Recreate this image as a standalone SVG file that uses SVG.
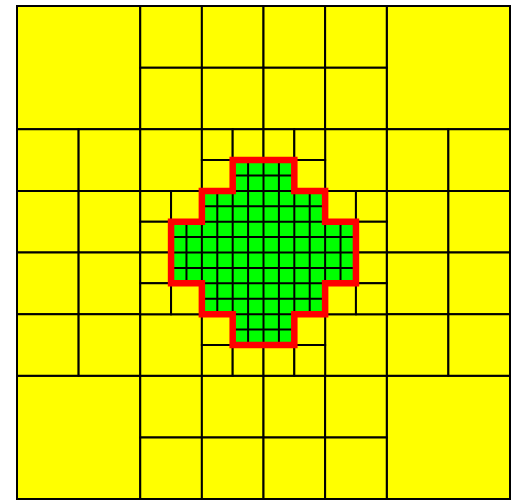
<svg xmlns="http://www.w3.org/2000/svg" width="519" height="500" viewBox="0 0 519 500">
<style>
.c{fill:#ffff00;stroke:#000;stroke-width:2;vector-effect:non-scaling-stroke}
.g{fill:#00ff00;stroke:none}
.gl{fill:none;stroke:#000;stroke-width:2;vector-effect:non-scaling-stroke}
.r{fill:none;stroke:#ff0000;stroke-width:6.5;stroke-linejoin:miter;vector-effect:non-scaling-stroke}
</style>
<defs>
<clipPath id="gc"><polygon points="7,5 9,5 9,6 10,6 10,7 11,7 11,9 10,9 10,10 9,10 9,11 7,11 7,10 6,10 6,9 5,9 5,7 6,7 6,6 7,6"/></clipPath>
</defs>
<rect width="519" height="500" fill="#fff"/>
<g transform="translate(17 6) scale(30.8125)">
<g id="level1">
<rect class="c" x="0" y="0" width="4" height="4"/>
<rect class="c" x="12" y="0" width="4" height="4"/>
<rect class="c" x="0" y="12" width="4" height="4"/>
<rect class="c" x="12" y="12" width="4" height="4"/>
</g>
<g id="level2">
<rect class="c" x="4" y="0" width="2" height="2"/><rect class="c" x="6" y="0" width="2" height="2"/><rect class="c" x="8" y="0" width="2" height="2"/><rect class="c" x="10" y="0" width="2" height="2"/>
<rect class="c" x="4" y="2" width="2" height="2"/><rect class="c" x="6" y="2" width="2" height="2"/><rect class="c" x="8" y="2" width="2" height="2"/><rect class="c" x="10" y="2" width="2" height="2"/>
<rect class="c" x="4" y="12" width="2" height="2"/><rect class="c" x="6" y="12" width="2" height="2"/><rect class="c" x="8" y="12" width="2" height="2"/><rect class="c" x="10" y="12" width="2" height="2"/>
<rect class="c" x="4" y="14" width="2" height="2"/><rect class="c" x="6" y="14" width="2" height="2"/><rect class="c" x="8" y="14" width="2" height="2"/><rect class="c" x="10" y="14" width="2" height="2"/>
<rect class="c" x="0" y="4" width="2" height="2"/><rect class="c" x="2" y="4" width="2" height="2"/><rect class="c" x="0" y="6" width="2" height="2"/><rect class="c" x="2" y="6" width="2" height="2"/>
<rect class="c" x="0" y="8" width="2" height="2"/><rect class="c" x="2" y="8" width="2" height="2"/><rect class="c" x="0" y="10" width="2" height="2"/><rect class="c" x="2" y="10" width="2" height="2"/>
<rect class="c" x="12" y="4" width="2" height="2"/><rect class="c" x="14" y="4" width="2" height="2"/><rect class="c" x="12" y="6" width="2" height="2"/><rect class="c" x="14" y="6" width="2" height="2"/>
<rect class="c" x="12" y="8" width="2" height="2"/><rect class="c" x="14" y="8" width="2" height="2"/><rect class="c" x="12" y="10" width="2" height="2"/><rect class="c" x="14" y="10" width="2" height="2"/>
<rect class="c" x="4" y="4" width="2" height="2"/><rect class="c" x="10" y="4" width="2" height="2"/><rect class="c" x="4" y="10" width="2" height="2"/><rect class="c" x="10" y="10" width="2" height="2"/>
</g>
<g id="level3">
<rect class="c" x="6" y="4" width="1" height="1"/><rect class="c" x="7" y="4" width="1" height="1"/><rect class="c" x="6" y="5" width="1" height="1"/>
<rect class="c" x="8" y="4" width="1" height="1"/><rect class="c" x="9" y="4" width="1" height="1"/><rect class="c" x="9" y="5" width="1" height="1"/>
<rect class="c" x="4" y="6" width="1" height="1"/><rect class="c" x="5" y="6" width="1" height="1"/><rect class="c" x="4" y="7" width="1" height="1"/>
<rect class="c" x="10" y="6" width="1" height="1"/><rect class="c" x="11" y="6" width="1" height="1"/><rect class="c" x="11" y="7" width="1" height="1"/>
<rect class="c" x="4" y="8" width="1" height="1"/><rect class="c" x="4" y="9" width="1" height="1"/><rect class="c" x="5" y="9" width="1" height="1"/>
<rect class="c" x="11" y="8" width="1" height="1"/><rect class="c" x="10" y="9" width="1" height="1"/><rect class="c" x="11" y="9" width="1" height="1"/>
<rect class="c" x="6" y="10" width="1" height="1"/><rect class="c" x="6" y="11" width="1" height="1"/><rect class="c" x="7" y="11" width="1" height="1"/>
<rect class="c" x="9" y="10" width="1" height="1"/><rect class="c" x="8" y="11" width="1" height="1"/><rect class="c" x="9" y="11" width="1" height="1"/>
</g>
<g id="region">
<polygon class="g" points="7,5 9,5 9,6 10,6 10,7 11,7 11,9 10,9 10,10 9,10 9,11 7,11 7,10 6,10 6,9 5,9 5,7 6,7 6,6 7,6"/>
<path class="gl" clip-path="url(#gc)" d="M5.5 5V11M6 5V11M6.5 5V11M7 5V11M7.5 5V11M8 5V11M8.5 5V11M9 5V11M9.5 5V11M10 5V11M10.5 5V11M5 5.5H11M5 6H11M5 6.5H11M5 7H11M5 7.5H11M5 8H11M5 8.5H11M5 9H11M5 9.5H11M5 10H11M5 10.5H11"/>
<polygon class="r" points="7,5 9,5 9,6 10,6 10,7 11,7 11,9 10,9 10,10 9,10 9,11 7,11 7,10 6,10 6,9 5,9 5,7 6,7 6,6 7,6"/>
</g>
</g>
</svg>
